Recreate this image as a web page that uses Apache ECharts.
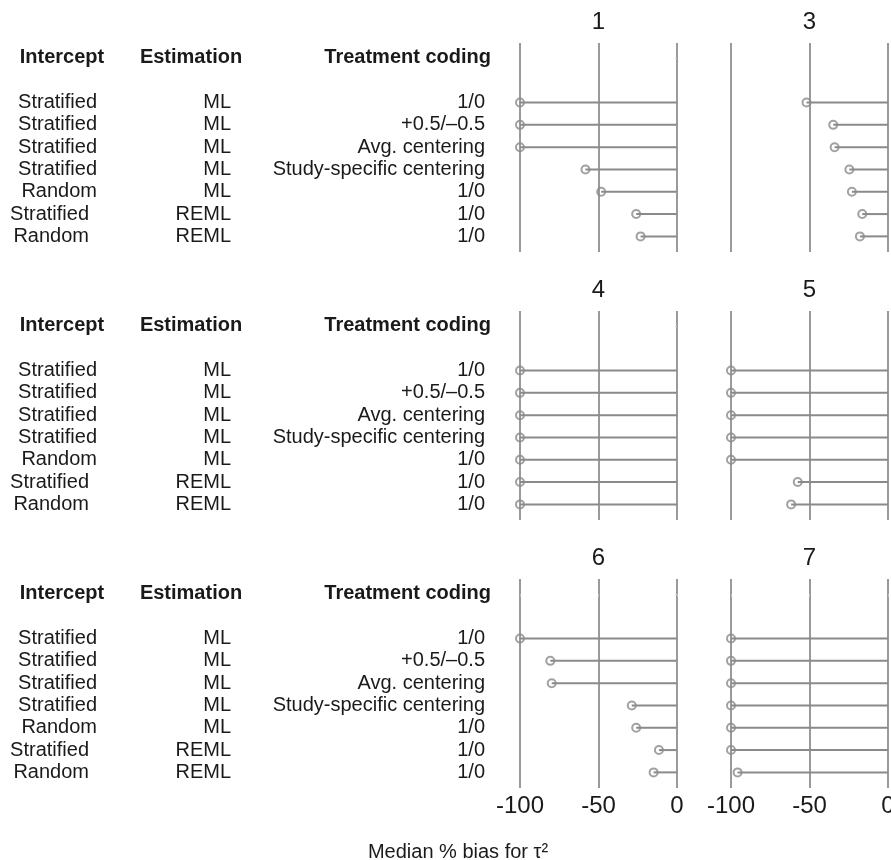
<!DOCTYPE html>
<html>
<head>
<meta charset="utf-8">
<script src="https://cdn.jsdelivr.net/npm/echarts@6/dist/echarts.min.js"></script>
<style>
html,body{margin:0;padding:0;background:#fff;}
#chart{width:891px;height:860px;}
</style>
</head>
<body>
<div id="chart"></div>
<script>
// ---- data ----
var headers = ['Intercept', 'Estimation', 'Treatment coding'];
var intercept = ['Stratified', 'Stratified', 'Stratified', 'Stratified', 'Random', 'Stratified', 'Random'];
var estimation = ['ML', 'ML', 'ML', 'ML', 'ML', 'REML', 'REML'];
var coding = ['1/0', '+0.5/\u20130.5', 'Avg. centering', 'Study-specific centering', '1/0', '1/0', '1/0'];
var rowPos = [2, 3, 4, 5, 6, 7, 8];   // y-scale position of each configuration (header at 0)
var headerPos = 0;
var panelNames = ['1', '3', '4', '5', '6', '7'];
var bias1 = [-100, -100, -100, -58.3, -48.3, -26, -23.2];
var bias3 = [-51.9, -34.9, -34, -24.6, -23, -16.4, -17.9];
var bias4 = [-100, -100, -100, -100, -100, -100, -100];
var bias5 = [-100, -100, -100, -100, -100, -57.5, -61.7];
var bias6 = [-100, -80.7, -79.8, -28.8, -26, -11.5, -14.9];
var bias7 = [-100, -100, -100, -100, -100, -100, -95.8];
var xMin = -100, xMax = 0, xStep = 50;
var xTitle = 'Median % bias for \u03c4\u00b2';

var panels = [bias1, bias3, bias4, bias5, bias6, bias7];

// ---- layout ----
var FONT = '"Liberation Sans", Arial, Helvetica, sans-serif';
var TXT = '#1a1a1a';
var GRID_C = '#9a9a9a';
var MARK_C = '#8a8a8a';
var colLeft = [520, 731];
var rowTop = [43, 311, 579];
var gw = 157, gh = 209;

var grids = [], xAxes = [], yAxes = [], series = [], titles = [];

function labelFormatter(v) {
  if (v === headerPos) {
    return '{ha|' + headers[0] + '}{hb|' + headers[1] + '}{hc|' + headers[2] + '}';
  }
  var i = rowPos.indexOf(v);
  if (i < 0) return '';
  var reml = estimation[i].length > 2;
  return '{' + (reml ? 'a2' : 'a') + '|' + intercept[i] + '}{' + (reml ? 'b2' : 'b') + '|' + estimation[i] + '}{c|' + coding[i] + '}{sp|}';
}

var tickVals = [headerPos].concat(rowPos);

panels.forEach(function (vals, k) {
  var r = Math.floor(k / 2), c = k % 2;
  grids.push({left: colLeft[c], top: rowTop[r], width: gw, height: gh, containLabel: false, outerBoundsMode: 'none'});
  var bottom = (r === 2);
  xAxes.push({
    type: 'value', gridIndex: k, min: xMin, max: xMax, interval: xStep,
    axisLine: {show: false},
    axisTick: {show: bottom, length: 3, lineStyle: {color: '#bbb', width: 1}},
    axisLabel: {show: bottom, fontSize: 24, color: TXT, fontFamily: FONT, margin: 6, hideOverlap: false},
    splitLine: {show: true, lineStyle: {color: GRID_C, width: 2}}
  });
  var left = (c === 0);
  yAxes.push({
    type: 'value', gridIndex: k, inverse: true, min: -0.67, max: 8.7,
    show: left,
    offset: 14,
    axisLine: {show: false},
    splitLine: {show: false},
    axisTick: {show: left, length: 2, customValues: tickVals, lineStyle: {color: '#d8d8d8', width: 1}},
    axisLabel: {
      show: left, customValues: tickVals, margin: 15, formatter: labelFormatter,
      fontFamily: FONT, fontSize: 20, color: TXT,
      rich: {
        ha: {width: 124, align: 'center', fontWeight: 'bold', fontSize: 20, fontFamily: FONT, color: TXT},
        hb: {width: 134, align: 'center', fontWeight: 'bold', fontSize: 20, fontFamily: FONT, color: TXT},
        hc: {width: 233, align: 'right', fontWeight: 'bold', fontSize: 20, fontFamily: FONT, color: TXT},
        a: {width: 97, align: 'right', fontSize: 20, fontFamily: FONT, color: TXT},
        a2: {width: 89, align: 'right', fontSize: 20, fontFamily: FONT, color: TXT},
        b: {width: 134, align: 'right', fontSize: 20, fontFamily: FONT, color: TXT},
        b2: {width: 142, align: 'right', fontSize: 20, fontFamily: FONT, color: TXT},
        c: {width: 254, align: 'right', fontSize: 20, fontFamily: FONT, color: TXT},
        sp: {width: 6, align: 'right', fontSize: 20, fontFamily: FONT}
      }
    }
  });
  var pts = vals.map(function (v, i) { return [v, rowPos[i]]; });
  series.push({
    type: 'custom', xAxisIndex: k, yAxisIndex: k, clip: false, z: 3,
    data: pts,
    renderItem: function (params, api) {
      var p = api.coord([api.value(0), api.value(1)]);
      var z = api.coord([0, api.value(1)]);
      return {type: 'line', shape: {x1: p[0], y1: p[1], x2: z[0], y2: z[1]},
              style: {stroke: MARK_C, lineWidth: 2}};
    }
  });
  series.push({
    type: 'scatter', xAxisIndex: k, yAxisIndex: k, clip: false, z: 4,
    data: pts, symbol: 'circle', symbolSize: 8,
    itemStyle: {color: 'rgba(255,255,255,0)', borderColor: MARK_C, borderWidth: 2},
    emphasis: {disabled: true}
  });
  titles.push({
    text: panelNames[k], left: colLeft[c] + gw / 2, top: rowTop[r] - 33, textAlign: 'center', padding: 0,
    textStyle: {fontSize: 24, fontWeight: 'normal', color: TXT, fontFamily: FONT}
  });
});

titles.push({
  text: xTitle, left: 458, top: 842, textAlign: 'center', padding: 0,
  textStyle: {fontSize: 20, fontWeight: 'normal', color: TXT, fontFamily: FONT}
});

var chart = echarts.init(document.getElementById('chart'), null, {renderer: 'canvas'});
chart.setOption({
  animation: false,
  backgroundColor: '#fff',
  title: titles,
  grid: grids,
  xAxis: xAxes,
  yAxis: yAxes,
  tooltip: {show: false},
  series: series
});
</script>
</body>
</html>
